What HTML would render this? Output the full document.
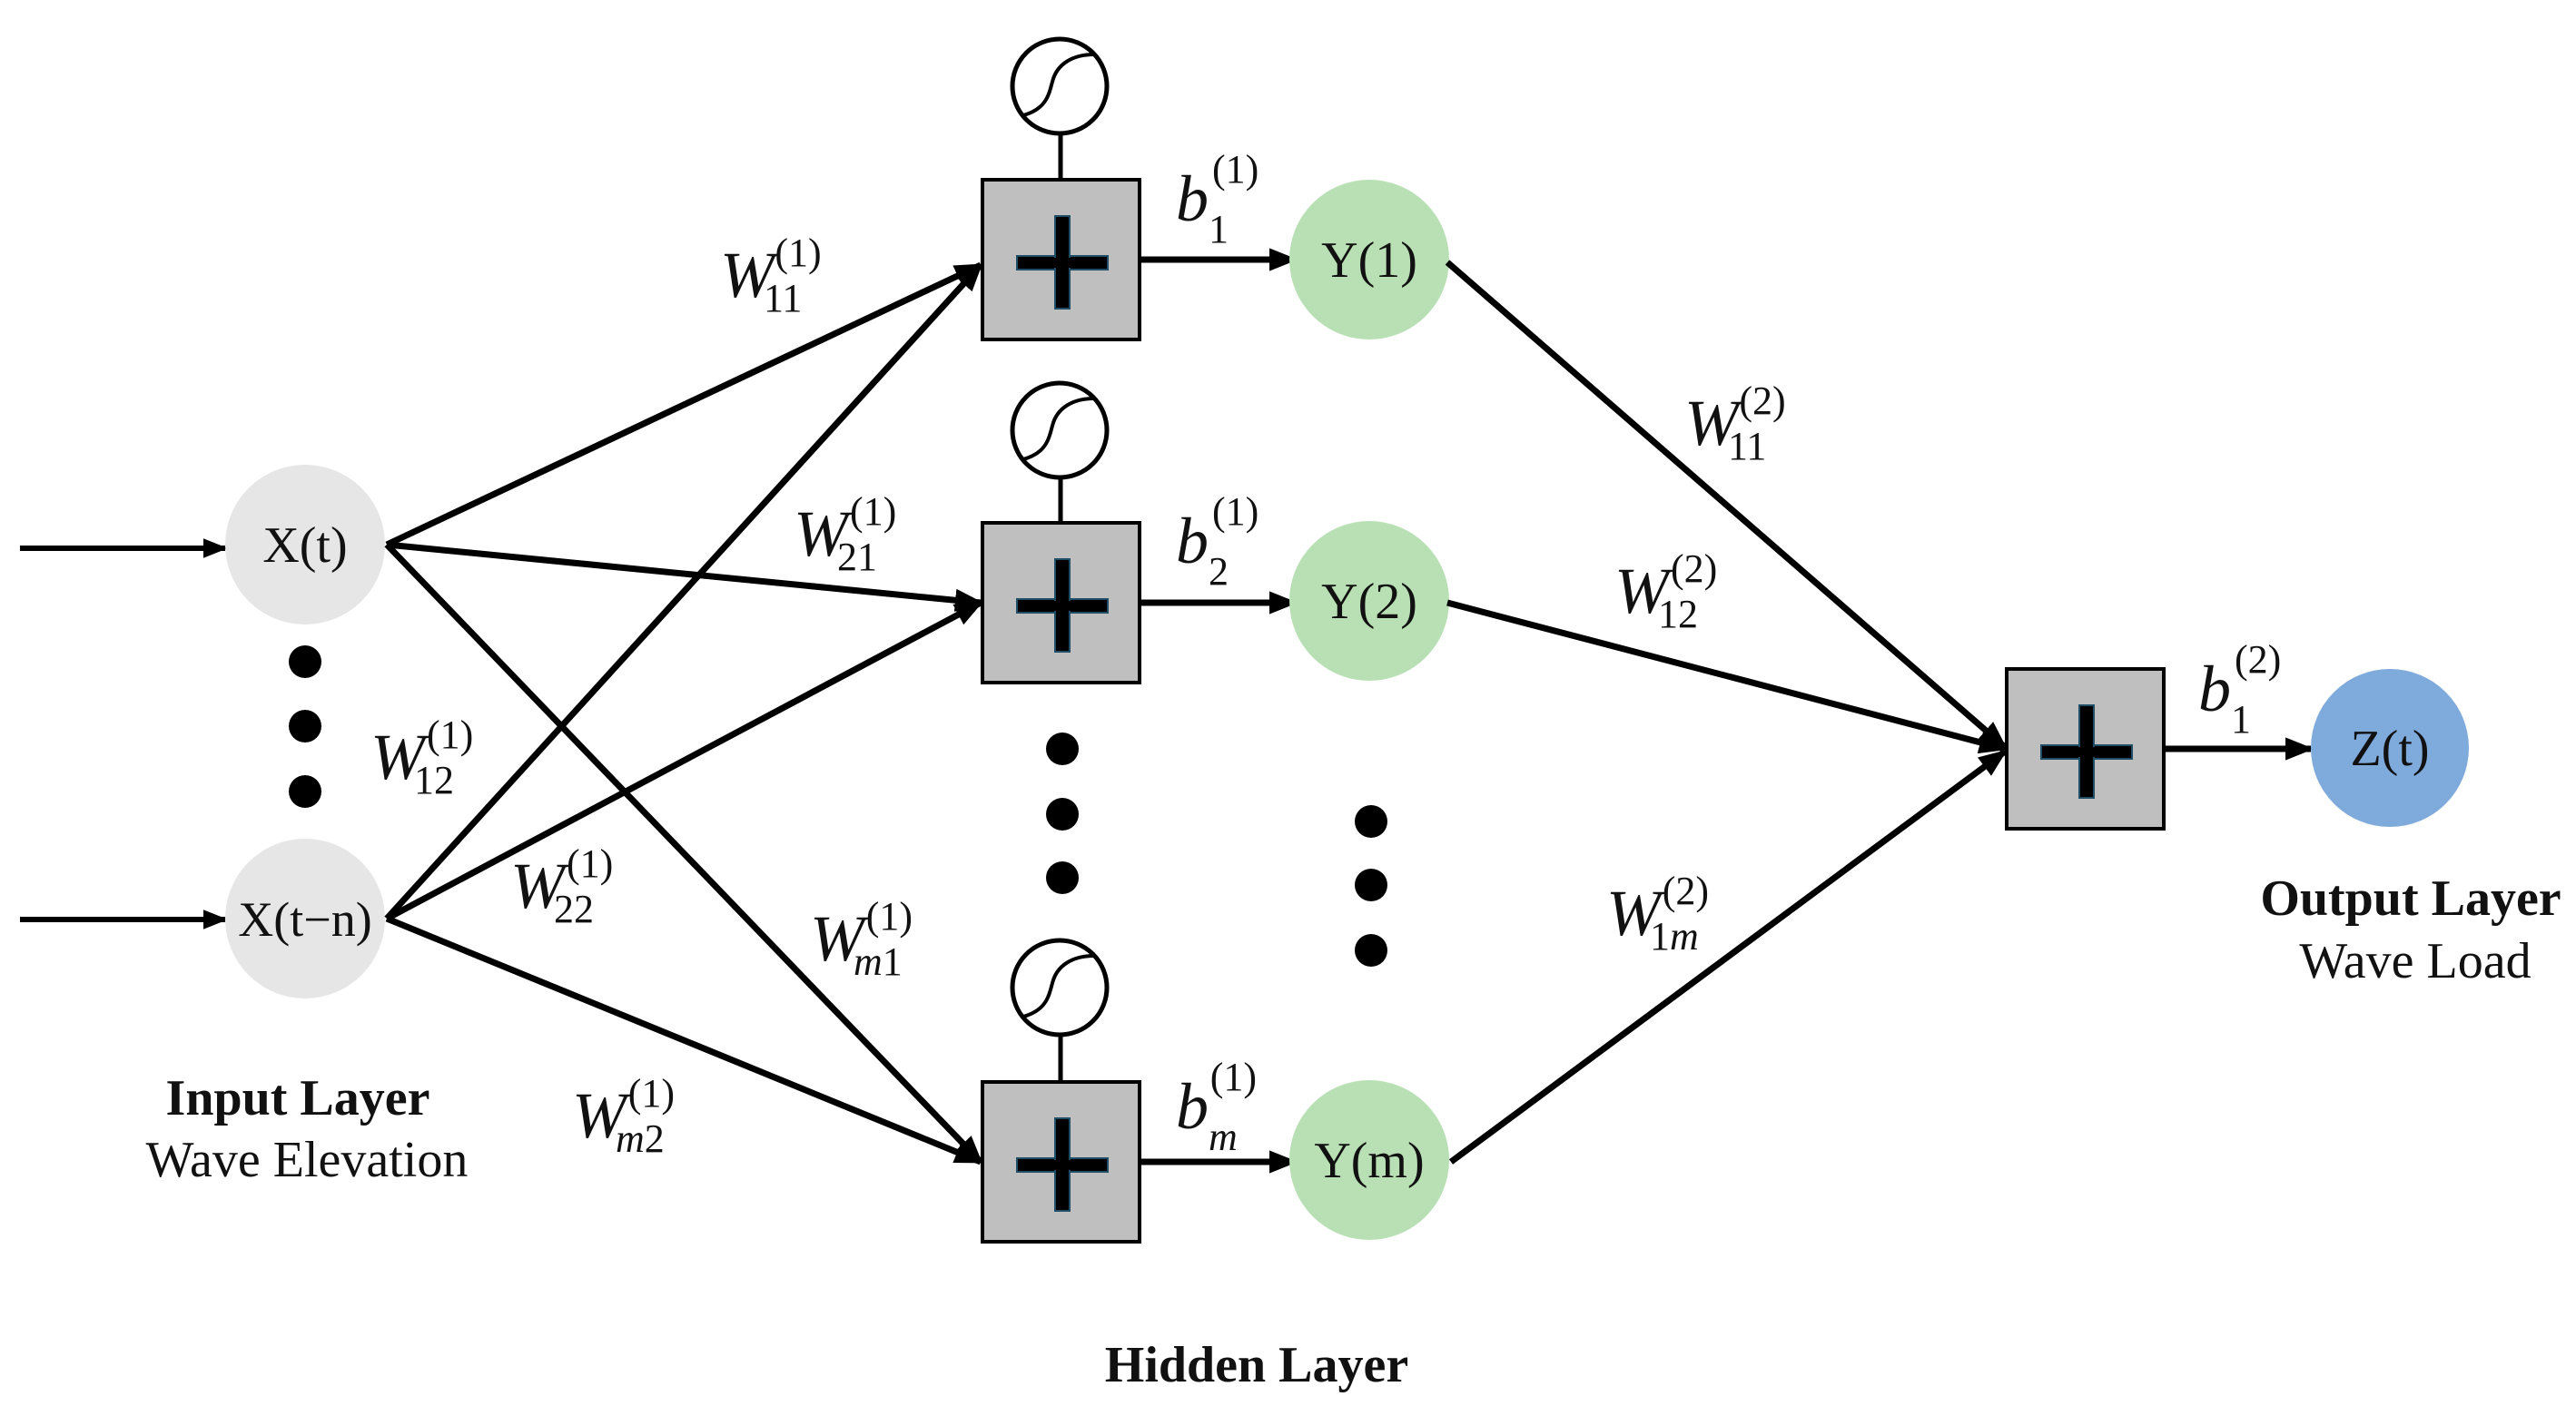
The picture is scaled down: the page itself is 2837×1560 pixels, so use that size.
<!DOCTYPE html>
<html><head><meta charset="utf-8"><style>
html,body{margin:0;padding:0;background:#fff;}
svg{display:block}
text{font-family:"Liberation Serif","DejaVu Serif",serif;fill:#111}
.w{font-style:italic;font-size:72px}
.s{font-style:normal;font-size:44px}
.nd{font-size:56px;text-anchor:middle}
.lb{font-size:56px;text-anchor:middle}
</style></head><body>
<svg width="2837" height="1560" viewBox="0 0 2837 1560" xmlns="http://www.w3.org/2000/svg">
<defs>
<marker id="ah" markerWidth="4.5" markerHeight="5" refX="4" refY="2.5" orient="auto" markerUnits="strokeWidth">
<path d="M0,0.7 L4.5,2.5 L0,4.3 z" fill="#000"/></marker>
<g id="box">
<rect x="0" y="0" width="173" height="176" fill="#bfbfbf" stroke="#000" stroke-width="4"/>
<rect x="38" y="84" width="100" height="15" fill="#000" stroke="#1f4e66" stroke-width="2"/>
<rect x="80" y="40" width="16" height="102" fill="#000" stroke="#1f4e66" stroke-width="2"/>
<rect x="40" y="86" width="96" height="11" fill="#000"/>
</g>
<g id="sig">
<circle cx="0" cy="0" r="52" fill="#fff" stroke="#000" stroke-width="5"/>
<path d="M-40,32 C-15,25 -12,10 -8,-5 C-3,-25 15,-35 38,-35" fill="none" stroke="#000" stroke-width="4"/>
</g>
</defs>

<g stroke="#000" stroke-width="6" fill="none">
<line x1="22" y1="604" x2="248" y2="604" marker-end="url(#ah)"/>
<line x1="22" y1="1013" x2="248" y2="1013" marker-end="url(#ah)"/>
</g>

<circle cx="336" cy="600" r="88" fill="#e6e6e6"/>
<circle cx="336" cy="1012" r="88" fill="#e6e6e6"/>
<text class="nd" x="336" y="619">X(t)</text>
<text class="nd" x="336" y="1031" style="font-size:54px">X(t−n)</text>
<circle cx="336" cy="729" r="18" fill="#000"/>
<circle cx="336" cy="800" r="18" fill="#000"/>
<circle cx="336" cy="872" r="18" fill="#000"/>

<g stroke="#000" stroke-width="7" fill="none">
<line x1="426" y1="600" x2="1080" y2="292" marker-end="url(#ah)"/>
<line x1="426" y1="600" x2="1080" y2="664" marker-end="url(#ah)"/>
<line x1="426" y1="600" x2="1080" y2="1280" marker-end="url(#ah)"/>
<line x1="426" y1="1012" x2="1080" y2="292" marker-end="url(#ah)"/>
<line x1="426" y1="1012" x2="1080" y2="664" marker-end="url(#ah)"/>
<line x1="426" y1="1012" x2="1080" y2="1280" marker-end="url(#ah)"/>
</g>

<g stroke="#000" stroke-width="5">
<line x1="1168" y1="147" x2="1168" y2="198"/>
<line x1="1168" y1="526" x2="1168" y2="576"/>
<line x1="1168" y1="1140" x2="1168" y2="1193"/>
</g>
<use href="#sig" x="1167" y="95"/>
<use href="#sig" x="1167" y="474"/>
<use href="#sig" x="1167" y="1088"/>
<use href="#box" x="1082" y="198"/>
<use href="#box" x="1082" y="576"/>
<use href="#box" x="1082" y="1192"/>
<circle cx="1170" cy="825" r="18" fill="#000"/>
<circle cx="1170" cy="897" r="18" fill="#000"/>
<circle cx="1170" cy="967" r="18" fill="#000"/>

<g stroke="#000" stroke-width="7" fill="none">
<line x1="1257" y1="286" x2="1426" y2="286" marker-end="url(#ah)"/>
<line x1="1257" y1="664" x2="1426" y2="664" marker-end="url(#ah)"/>
<line x1="1257" y1="1280" x2="1426" y2="1280" marker-end="url(#ah)"/>
</g>

<circle cx="1508" cy="286" r="88" fill="#b9e0b4"/>
<circle cx="1508" cy="662" r="88" fill="#b9e0b4"/>
<circle cx="1508" cy="1278" r="88" fill="#b9e0b4"/>
<text class="nd" x="1508" y="305">Y(1)</text>
<text class="nd" x="1508" y="681">Y(2)</text>
<text class="nd" x="1508" y="1297">Y(m)</text>
<circle cx="1510" cy="905" r="18" fill="#000"/>
<circle cx="1510" cy="975" r="18" fill="#000"/>
<circle cx="1510" cy="1047" r="18" fill="#000"/>

<g stroke="#000" stroke-width="7" fill="none">
<line x1="1594" y1="289" x2="2208" y2="823" marker-end="url(#ah)"/>
<line x1="1594" y1="664" x2="2208" y2="825" marker-end="url(#ah)"/>
<line x1="1598" y1="1280" x2="2208" y2="828" marker-end="url(#ah)"/>
<line x1="2385" y1="825" x2="2545" y2="825" marker-end="url(#ah)"/>
</g>
<use href="#box" x="2210" y="737"/>
<circle cx="2632" cy="824" r="87" fill="#7faadc"/>
<text class="nd" x="2632" y="843">Z(t)</text>

<text class="w" x="793" y="327">W<tspan class="s" dx="-12" dy="16">11</tspan><tspan class="s" dx="-30" dy="-50">(1)</tspan></text>
<text class="w" x="874" y="612">W<tspan class="s" dx="-12" dy="16">21</tspan><tspan class="s" dx="-30" dy="-50">(1)</tspan></text>
<text class="w" x="408" y="858">W<tspan class="s" dx="-12" dy="16">12</tspan><tspan class="s" dx="-30" dy="-50">(1)</tspan></text>
<text class="w" x="562" y="1000">W<tspan class="s" dx="-12" dy="16">22</tspan><tspan class="s" dx="-30" dy="-50">(1)</tspan></text>
<text class="w" x="892" y="1058">W<tspan class="s" dx="-12" dy="16" style="font-style:italic">m</tspan><tspan class="s">1</tspan><tspan class="s" dx="-40" dy="-50">(1)</tspan></text>
<text class="w" x="630" y="1253">W<tspan class="s" dx="-12" dy="16" style="font-style:italic">m</tspan><tspan class="s">2</tspan><tspan class="s" dx="-40" dy="-50">(1)</tspan></text>
<text class="w" x="1855" y="490">W<tspan class="s" dx="-12" dy="16">11</tspan><tspan class="s" dx="-30" dy="-50">(2)</tspan></text>
<text class="w" x="1778" y="675">W<tspan class="s" dx="-12" dy="16">12</tspan><tspan class="s" dx="-30" dy="-50">(2)</tspan></text>
<text class="w" x="1769" y="1030">W<tspan class="s" dx="-12" dy="16">1</tspan><tspan class="s" style="font-style:italic">m</tspan><tspan class="s" dx="-40" dy="-50">(2)</tspan></text>

<text class="w" x="1295" y="243">b<tspan class="s" dy="24">1</tspan><tspan class="s" dx="-18" dy="-66">(1)</tspan></text>
<text class="w" x="1295" y="620">b<tspan class="s" dy="24">2</tspan><tspan class="s" dx="-18" dy="-66">(1)</tspan></text>
<text class="w" x="1295" y="1243">b<tspan class="s" dy="24" style="font-style:italic">m</tspan><tspan class="s" dx="-30" dy="-66">(1)</tspan></text>
<text class="w" x="2421" y="783">b<tspan class="s" dy="24">1</tspan><tspan class="s" dx="-18" dy="-66">(2)</tspan></text>

<text class="lb" x="328" y="1228" font-weight="bold">Input Layer</text>
<text class="lb" x="338" y="1296">Wave Elevation</text>
<text class="lb" x="2655" y="1008" font-weight="bold">Output Layer</text>
<text class="lb" x="2660" y="1077">Wave Load</text>
<text class="lb" x="1384" y="1522" font-weight="bold">Hidden Layer</text>
</svg>
</body></html>
